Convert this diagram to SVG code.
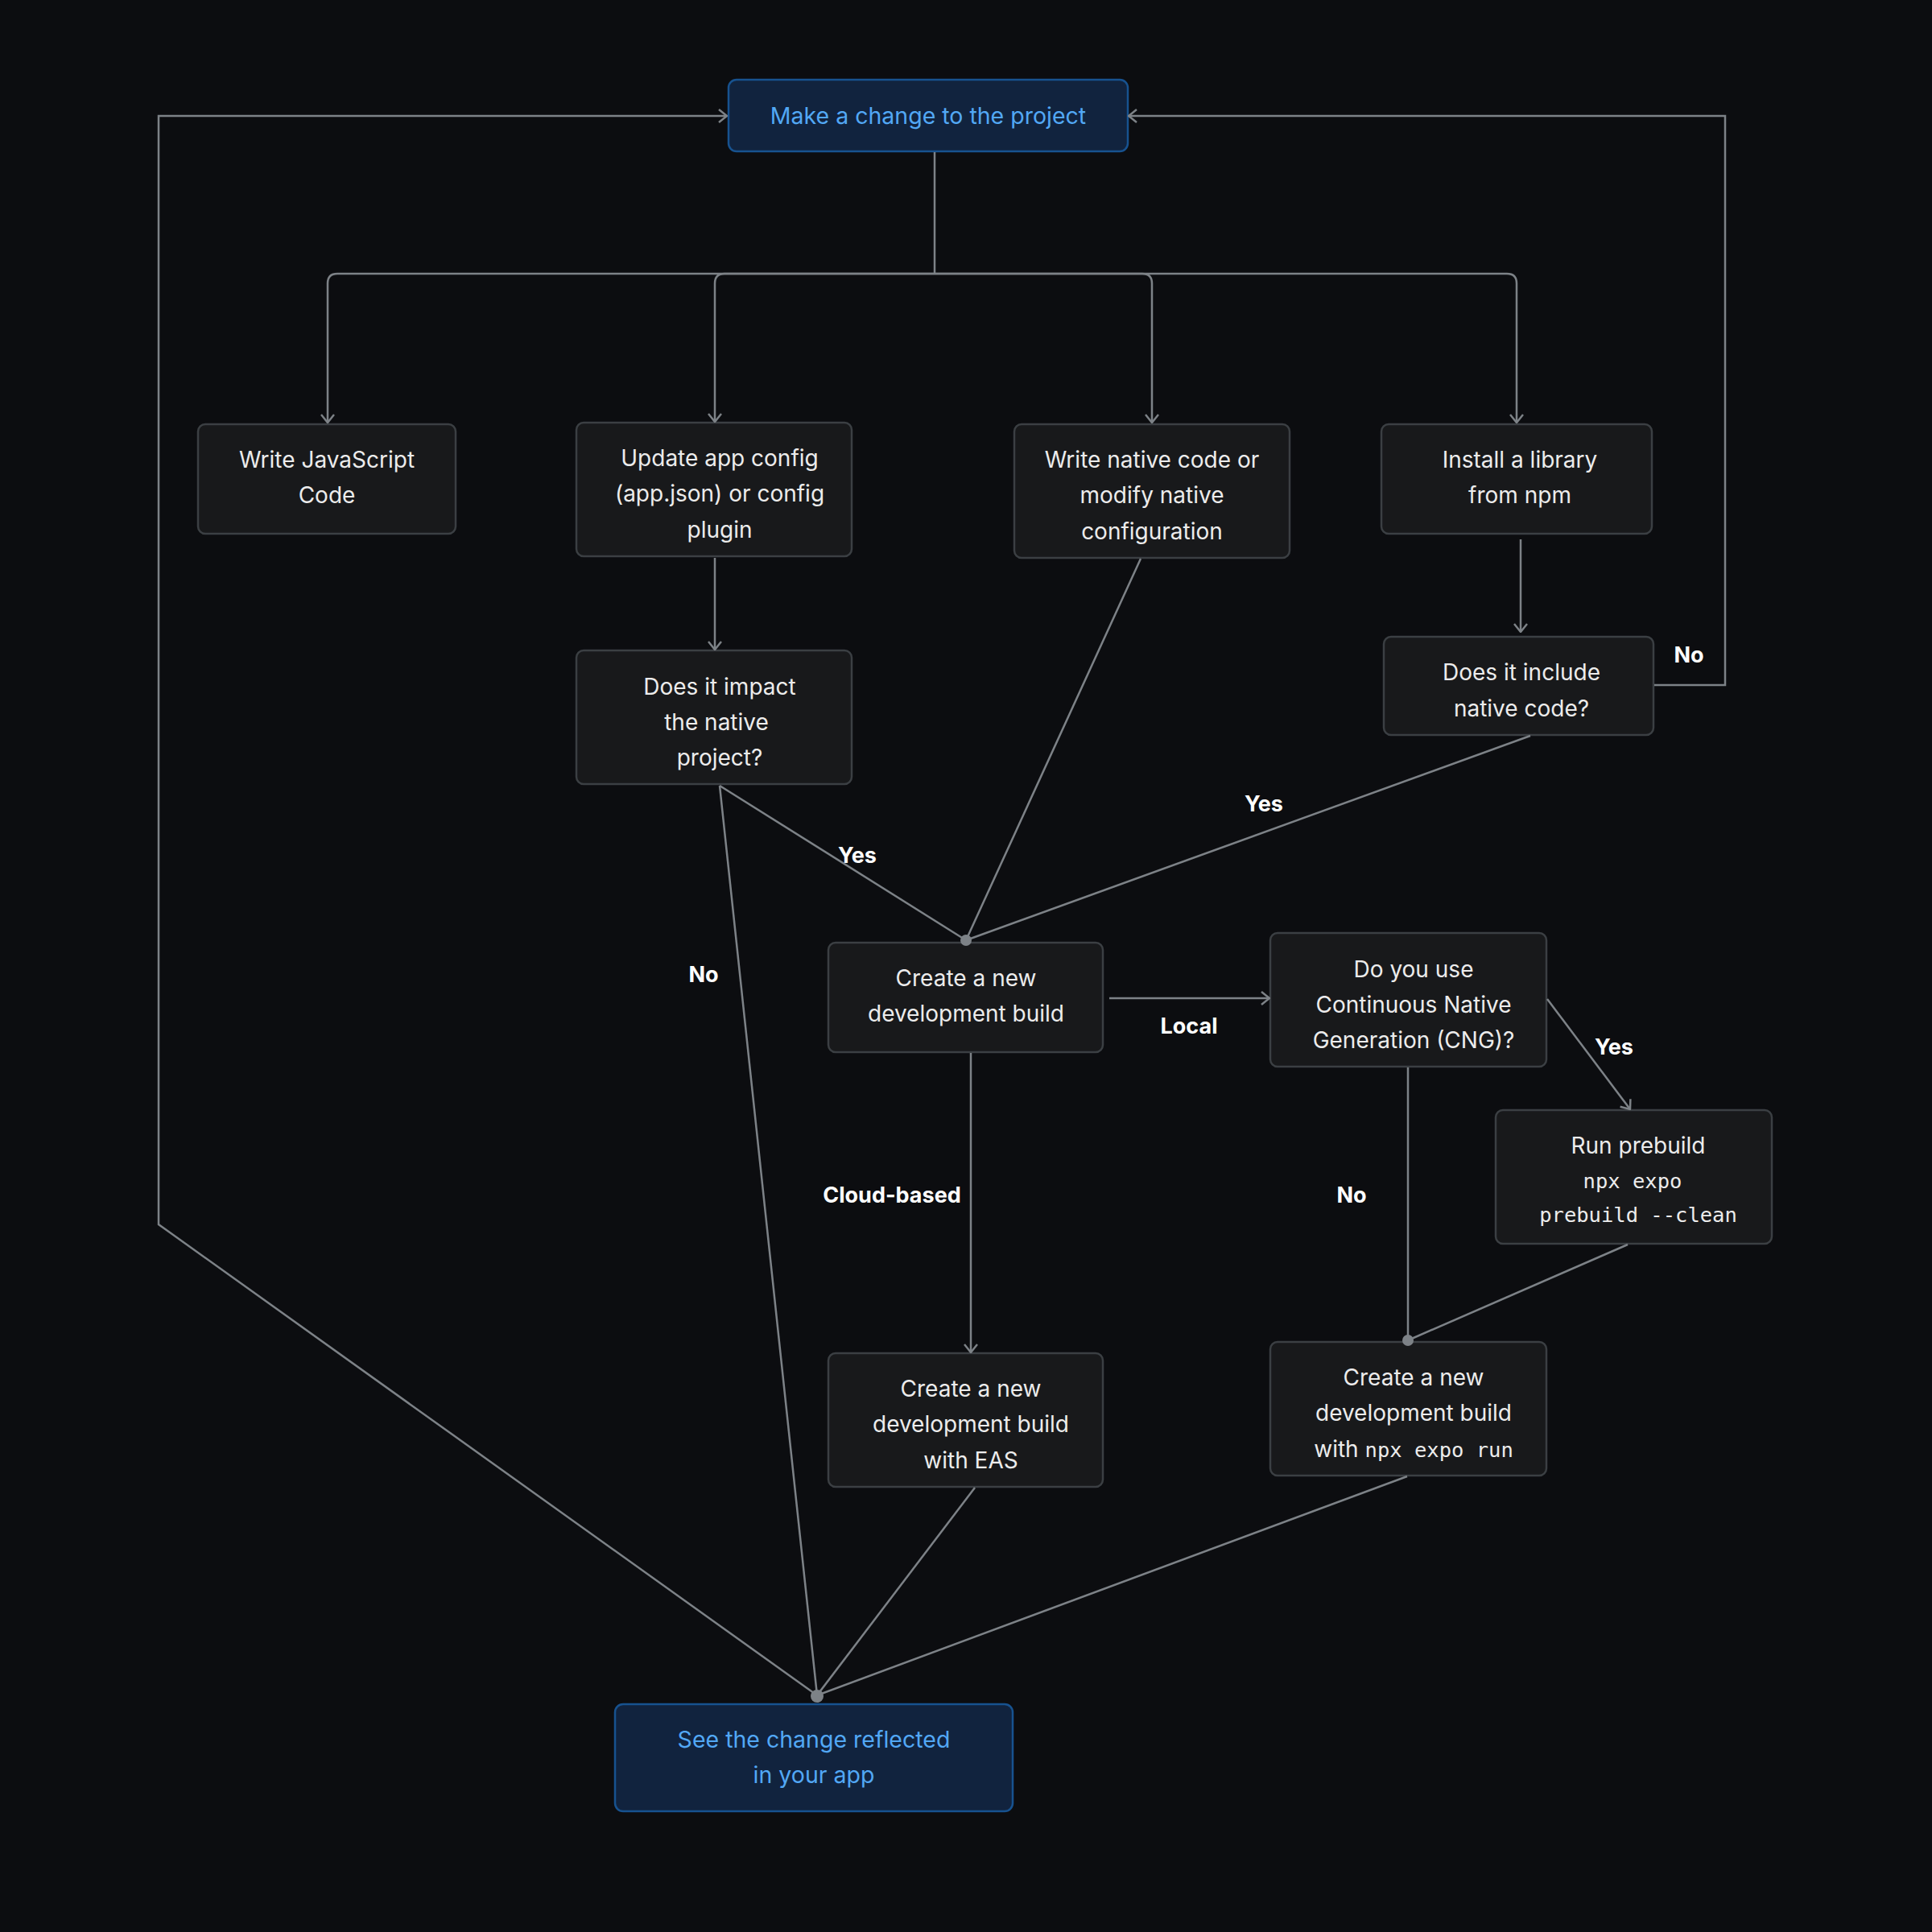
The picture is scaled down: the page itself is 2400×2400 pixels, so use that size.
<svg xmlns="http://www.w3.org/2000/svg" width="2400" height="2400" viewBox="0 0 2400 2400">
<defs>
<marker id="arr" viewBox="0 0 20 20" refX="19" refY="10" markerWidth="20" markerHeight="20" markerUnits="userSpaceOnUse" orient="auto">
<path d="M9,2 L19,10 L9,18" fill="none" stroke="#7d8287" stroke-width="2.5"/>
</marker>
<style>
.n rect{fill:#18191b;stroke:#3b3f43;stroke-width:2.5}
.b rect{fill:#11233e;stroke:#17528f;stroke-width:2.5}
.n text{fill:#ececec;font-family:Inter,"Noto Sans",sans-serif;font-size:28px;text-anchor:middle}
.b text{fill:#52a8f5;font-family:Inter,"Noto Sans",sans-serif;font-size:28.5px;text-anchor:middle}
.n .m{font-family:"DejaVu Sans Mono","Liberation Mono",monospace;font-size:25.5px}
.c path{fill:none;stroke:#7d8287;stroke-width:2.5}
.c circle{fill:#7d8287}
.l{fill:#ffffff;font-family:Inter,"Noto Sans",sans-serif;font-size:27px;font-weight:700;text-anchor:middle}
</style>
</defs>
<rect width="2400" height="2400" fill="#0c0d10"/>
<g id="make-change" class="b">
<rect x="905" y="99" width="496" height="89" rx="10"/>
<text x="1153" y="154">Make a change to the project</text>
</g>
<g id="write-js" class="n">
<rect x="246" y="527" width="320" height="136" rx="9"/>
<text x="406" y="581">Write JavaScript</text>
<text x="406" y="625">Code</text>
</g>
<g id="update-config" class="n">
<rect x="716" y="525" width="342" height="166" rx="9"/>
<text x="894" y="579">Update app config</text>
<text x="894" y="623">(app.json) or config</text>
<text x="894" y="668">plugin</text>
</g>
<g id="write-native" class="n">
<rect x="1260" y="527" width="342" height="166" rx="9"/>
<text x="1431" y="581">Write native code or</text>
<text x="1431" y="625">modify native</text>
<text x="1431" y="670">configuration</text>
</g>
<g id="install-lib" class="n">
<rect x="1716" y="527" width="336" height="136" rx="9"/>
<text x="1888" y="581">Install a library</text>
<text x="1888" y="625">from npm</text>
</g>
<g id="impact-native" class="n">
<rect x="716" y="808" width="342" height="166" rx="9"/>
<text x="894" y="863">Does it impact</text>
<text x="890" y="907">the native</text>
<text x="894" y="951">project?</text>
</g>
<g id="include-native" class="n">
<rect x="1719" y="791" width="335" height="122" rx="9"/>
<text x="1890" y="845">Does it include</text>
<text x="1890" y="890">native code?</text>
</g>
<g id="create-build" class="n">
<rect x="1029" y="1171" width="341" height="136" rx="9"/>
<text x="1200" y="1225">Create a new</text>
<text x="1200" y="1269">development build</text>
</g>
<g id="cng" class="n">
<rect x="1578" y="1159" width="343" height="166" rx="9"/>
<text x="1756" y="1214">Do you use</text>
<text x="1756" y="1258">Continuous Native</text>
<text x="1756" y="1302">Generation (CNG)?</text>
</g>
<g id="run-prebuild" class="n">
<rect x="1858" y="1379" width="343" height="166" rx="9"/>
<text x="2035" y="1433">Run prebuild</text>
<text x="2028" y="1476" class="m">npx expo</text>
<text x="2035" y="1518" class="m">prebuild --clean</text>
</g>
<g id="build-eas" class="n">
<rect x="1029" y="1681" width="341" height="166" rx="9"/>
<text x="1206" y="1735">Create a new</text>
<text x="1206" y="1779">development build</text>
<text x="1206" y="1824">with EAS</text>
</g>
<g id="build-local" class="n">
<rect x="1578" y="1667" width="343" height="166" rx="9"/>
<text x="1756" y="1721">Create a new</text>
<text x="1756" y="1765">development build</text>
<text x="1756" y="1810">with <tspan class="m" font-size="24">npx expo run</tspan></text>
</g>
<g id="see-change" class="b">
<rect x="764" y="2117" width="494" height="133" rx="10"/>
<text x="1011" y="2171">See the change reflected</text>
<text x="1011" y="2215">in your app</text>
</g>
<g id="connectors" class="c">
<path d="M1161,189 V340" stroke-width="4"/>
<path d="M1161,340 H419 Q407,340 407,352 V525" marker-end="url(#arr)"/>
<path d="M1161,340 H900 Q888,340 888,352 V524" marker-end="url(#arr)"/>
<path d="M1161,340 H1419 Q1431,340 1431,352 V525" marker-end="url(#arr)"/>
<path d="M1161,340 H1872 Q1884,340 1884,352 V525" marker-end="url(#arr)"/>
<path d="M888,693 V807" marker-end="url(#arr)"/>
<path d="M1889,670 V785" marker-end="url(#arr)"/>
<path d="M2055,851 H2143 V144 H1402" marker-end="url(#arr)"/>
<path d="M1015,2106 L197,1521 V144 H903" marker-end="url(#arr)"/>
<path d="M894,976 L1200,1168"/>
<path d="M1417,694 L1200,1168"/>
<path d="M1901,914 L1200,1168"/>
<path d="M894,976 L1015,2106"/>
<path d="M1378,1240 H1577" marker-end="url(#arr)" stroke-width="3.5"/>
<path d="M1922,1241 L2025,1378" marker-end="url(#arr)"/>
<path d="M2022,1546 L1749,1665"/>
<path d="M1749,1326 V1665"/>
<path d="M1206,1308 V1680" marker-end="url(#arr)"/>
<path d="M1211,1848 L1015,2106"/>
<path d="M1748,1834 L1015,2106"/>
<circle cx="1200" cy="1168" r="7"/>
<circle cx="1749" cy="1665" r="7"/>
<circle cx="1015" cy="2107" r="8"/>
<text class="l" x="2098" y="823">No</text>
<text class="l" x="1065" y="1072">Yes</text>
<text class="l" x="1570" y="1008">Yes</text>
<text class="l" x="874" y="1220">No</text>
<text class="l" x="1477" y="1284">Local</text>
<text class="l" x="2005" y="1310">Yes</text>
<text class="l" x="1108" y="1494">Cloud-based</text>
<text class="l" x="1679" y="1494">No</text>
</g>
</svg>
